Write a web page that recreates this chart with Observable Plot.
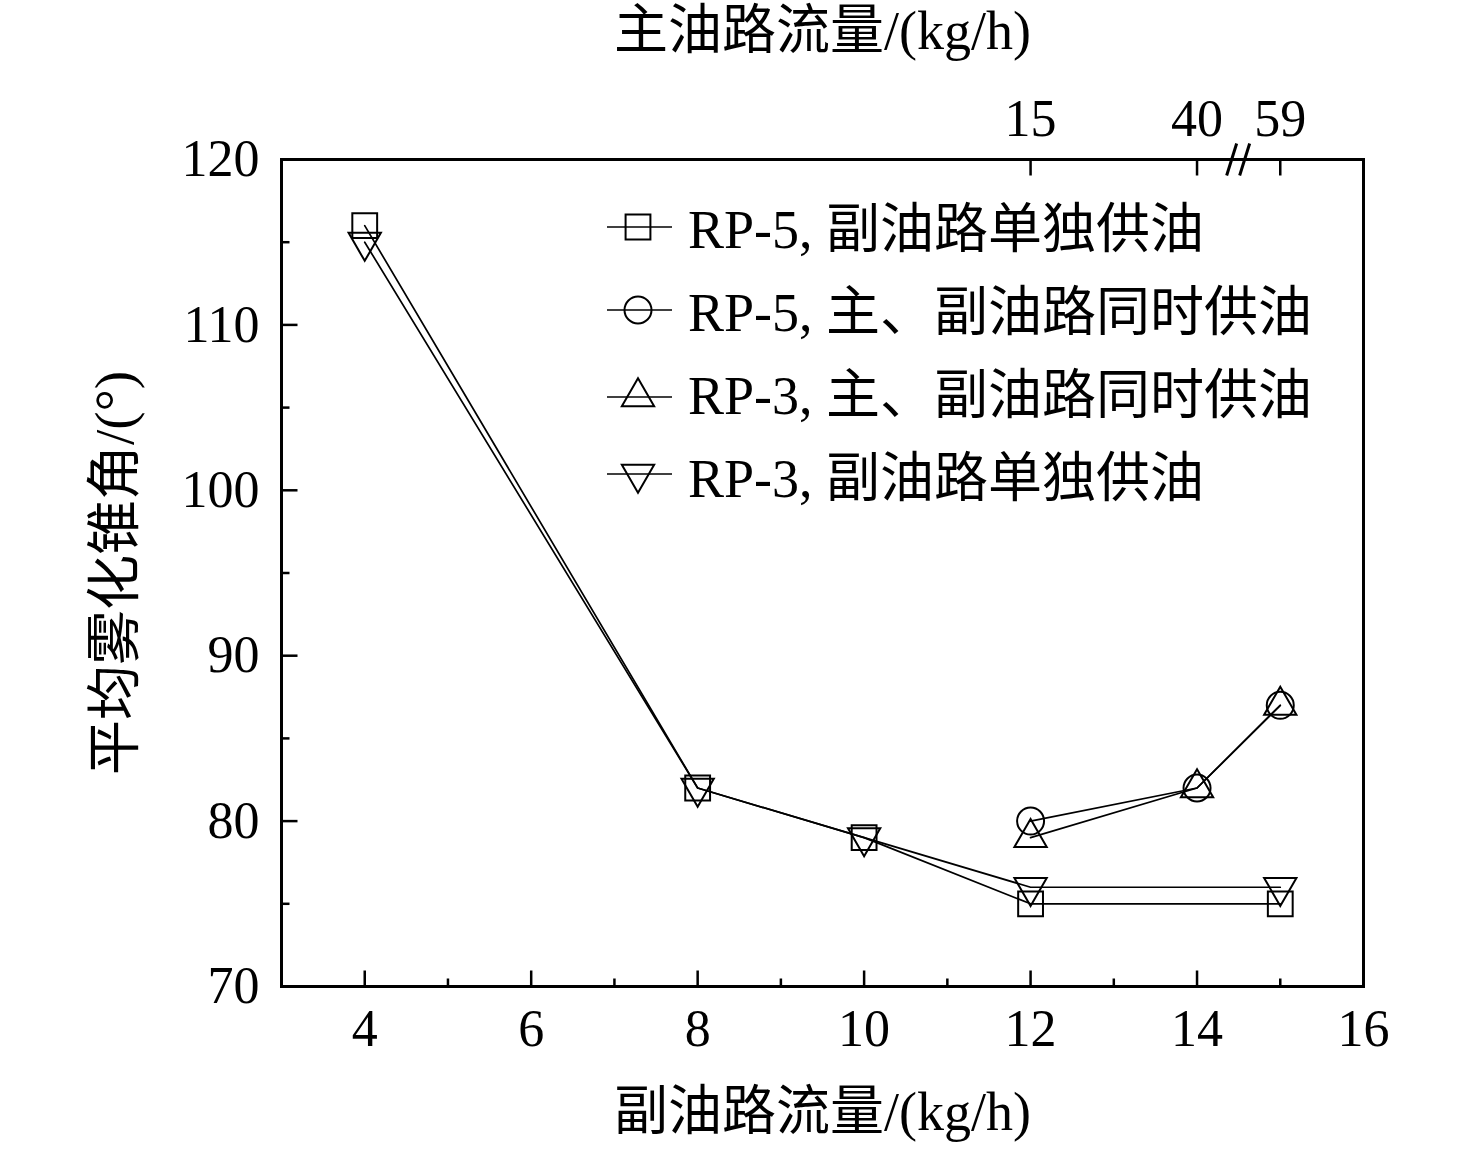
<!DOCTYPE html>
<html>
<head>
<meta charset="utf-8">
<script src="https://cdn.jsdelivr.net/npm/d3@7"></script>
<script src="https://cdn.jsdelivr.net/npm/@observablehq/plot@0.6"></script>
<style>
  body { margin: 0; background: #ffffff; }
  #chart svg { display: block; }
</style>
</head>
<body>
<div id="chart"></div>
<script>
// ---- data ----
const seriesNames = [
  "RP-5, 副油路单独供油",
  "RP-5, 主、副油路同时供油",
  "RP-3, 主、副油路同时供油",
  "RP-3, 副油路单独供油"
];
const rp5SingleX = [4, 8, 10, 12, 15];
const rp5SingleY = [116, 82, 79, 75, 75];
const rp5BothX = [12, 14, 15];
const rp5BothY = [80, 82, 87];
const rp3BothX = [12, 14, 15];
const rp3BothY = [79, 82, 87];
const rp3SingleX = [4, 8, 10, 12, 15];
const rp3SingleY = [115, 82, 79, 76, 76];

const xMajorTicks = [4, 6, 8, 10, 12, 14, 16];
const xMinorTicks = [5, 7, 9, 11, 13, 15];
const yMajorTicks = [70, 80, 90, 100, 110, 120];
const yMinorTicks = [75, 85, 95, 105, 115];
const topTickPos = [12, 14, 15];
const topTickLabels = ["15", "40", "59"];
const topBreakPos = [14.5];

const xTitle = "副油路流量/(kg/h)";
const topTitle = "主油路流量/(kg/h)";
const yTitle = "平均雾化锥角/(°)";

// ---- build table ----
const toRows = (xs, ys, name) => xs.map((x, i) => ({x, y: ys[i], series: name}));
const rows = [
  ...toRows(rp5SingleX, rp5SingleY, seriesNames[0]),
  ...toRows(rp5BothX, rp5BothY, seriesNames[1]),
  ...toRows(rp3BothX, rp3BothY, seriesNames[2]),
  ...toRows(rp3SingleX, rp3SingleY, seriesNames[3])
];

// ---- symbols ----
const triDown = {
  draw(ctx, size) {
    const h = Math.sqrt(size / (Math.sqrt(3) * 3));
    ctx.moveTo(0, 2 * h);
    ctx.lineTo(Math.sqrt(3) * h, -h);
    ctx.lineTo(-Math.sqrt(3) * h, -h);
    ctx.closePath();
  }
};
const symbolFor = [d3.symbolSquare, d3.symbolCircle, d3.symbolTriangle, triDown];
const rFor = [14, 13.5, 12, 12];

const tickSym = (dx, dy) => ({ draw(ctx) { ctx.moveTo(0, 0); ctx.lineTo(dx, dy); } });
const breakSym = { draw(ctx) {
  ctx.moveTo(-12, 16); ctx.lineTo(-2, -16);
  ctx.moveTo(1, 16); ctx.lineTo(11, -16);
}};

const FONT = "'Liberation Serif','Times New Roman','Noto Sans CJK SC',serif";

const marks = [];
seriesNames.forEach((name, i) => {
  const d = rows.filter(r => r.series === name);
  marks.push(Plot.line(d, {x: "x", y: "y", stroke: "black", strokeWidth: 1.7}));
});
seriesNames.forEach((name, i) => {
  const d = rows.filter(r => r.series === name);
  marks.push(Plot.dot(d, {x: "x", y: "y", symbol: symbolFor[i], r: rFor[i], fill: "none", stroke: "black", strokeWidth: 2}));
});

// ticks (inward)
marks.push(
  Plot.dot(xMajorTicks, {x: d => d, frameAnchor: "bottom", symbol: tickSym(0, -16), fill: "none", stroke: "black", strokeWidth: 2.5}),
  Plot.dot(xMinorTicks, {x: d => d, frameAnchor: "bottom", symbol: tickSym(0, -8), fill: "none", stroke: "black", strokeWidth: 2.5}),
  Plot.dot(yMajorTicks, {y: d => d, frameAnchor: "left", symbol: tickSym(16, 0), fill: "none", stroke: "black", strokeWidth: 2.5}),
  Plot.dot(yMinorTicks, {y: d => d, frameAnchor: "left", symbol: tickSym(8, 0), fill: "none", stroke: "black", strokeWidth: 2.5}),
  Plot.dot(topTickPos, {x: d => d, frameAnchor: "top", symbol: tickSym(0, 16), fill: "none", stroke: "black", strokeWidth: 2.5}),
  Plot.frame({stroke: "black", strokeWidth: 3}),
  Plot.dot(topBreakPos, {x: d => d, frameAnchor: "top", symbol: breakSym, fill: "none", stroke: "black", strokeWidth: 3})
);

// tick labels
marks.push(
  Plot.text(xMajorTicks, {x: d => d, text: d => String(d), frameAnchor: "bottom", lineAnchor: "middle", dy: 43, fontSize: 52, fill: "black"}),
  Plot.text(yMajorTicks, {y: d => d, text: d => String(d), frameAnchor: "left", lineAnchor: "middle", dx: -22, textAnchor: "end", fontSize: 52, fill: "black"}),
  Plot.text(topTickPos, {x: d => d, text: (d, i) => topTickLabels[i], frameAnchor: "top", lineAnchor: "middle", dy: -40, fontSize: 52, fill: "black"})
);

// axis titles
marks.push(
  Plot.text([xTitle], {text: d => d, frameAnchor: "bottom", lineAnchor: "middle", dy: 126, fontSize: 54, fill: "black"}),
  Plot.text([topTitle], {text: d => d, frameAnchor: "top", lineAnchor: "middle", dy: -128, fontSize: 54, fill: "black"}),
  Plot.text([yTitle], {text: d => d, frameAnchor: "left", lineAnchor: "middle", textAnchor: "middle", dx: -166, rotate: -90, fontSize: 55, fill: "black"})
);

const plot = Plot.plot({
  width: 1476,
  height: 1149,
  marginLeft: 281,
  marginRight: 113,
  marginTop: 159,
  marginBottom: 163,
  style: {fontFamily: FONT, background: "#ffffff", color: "black"},
  x: {domain: [3, 16], axis: null},
  y: {domain: [70, 120], axis: null},
  marks
});

// ---- legend (inside plot area) ----
const svg = d3.select(plot);
const lg = svg.append("g").attr("font-family", FONT).attr("font-size", 54)
  .attr("fill", "black").attr("text-anchor", "start");
const rowY = [227, 310, 397, 474];
seriesNames.forEach((name, i) => {
  const y = rowY[i];
  const g = lg.append("g").attr("transform", `translate(0,${y})`);
  g.append("line").attr("x1", 607).attr("x2", 672).attr("y1", 0).attr("y2", 0)
    .attr("stroke", "black").attr("stroke-width", 1.7);
  g.append("path")
    .attr("transform", "translate(638,0)")
    .attr("d", d3.symbol(symbolFor[i], rFor[i] * rFor[i] * Math.PI)())
    .attr("fill", "none").attr("stroke", "black").attr("stroke-width", 2);
  g.append("text").attr("x", 688).attr("y", [21, 21, 17, 23][i])
    .attr("text-anchor", "start").text(name);
});

document.getElementById("chart").appendChild(plot);
</script>
</body>
</html>
